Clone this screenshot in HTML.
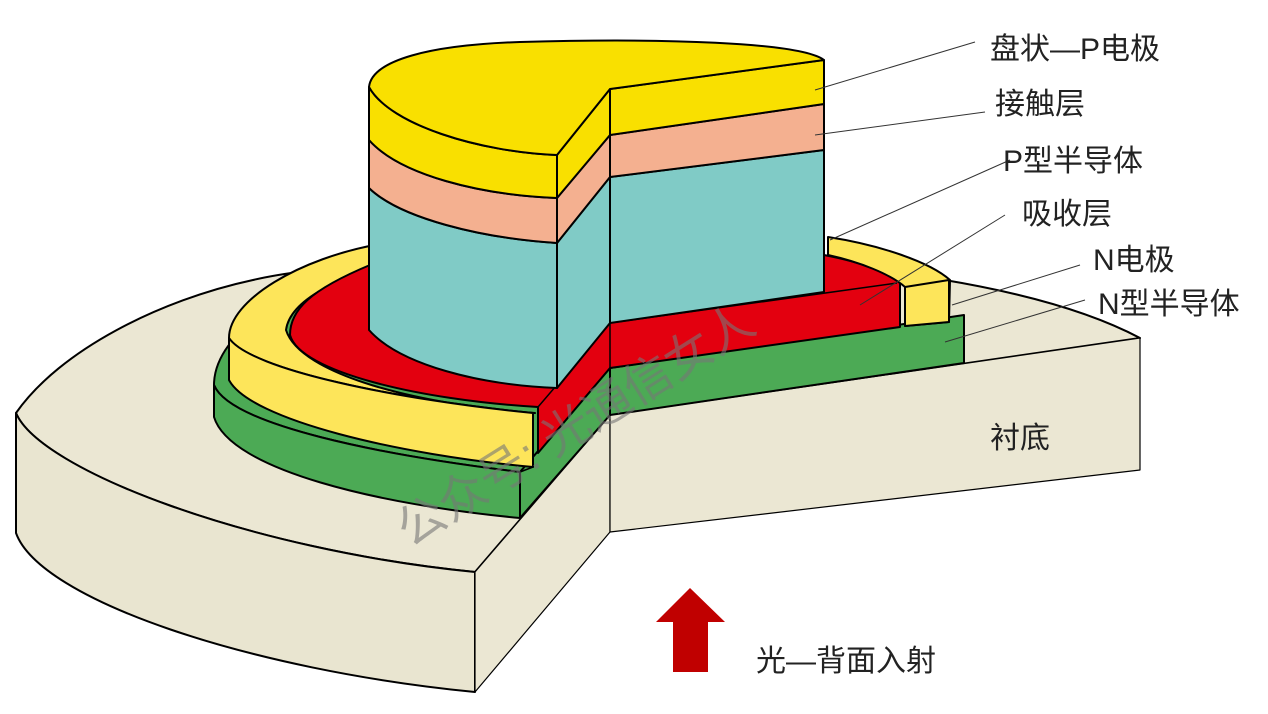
<!DOCTYPE html>
<html><head><meta charset="utf-8"><style>
html,body{margin:0;padding:0;background:#fff;}
svg{display:block;}
text{font-family:"Liberation Sans","Noto Sans CJK SC",sans-serif;}
</style></head><body>
<svg width="1268" height="714" viewBox="0 0 1268 714" xmlns="http://www.w3.org/2000/svg">
<g stroke="#000" stroke-width="2" stroke-linejoin="round">
<path d="M610,415 L1140,338 C1040,285 860,262 700,258 C500,255 330,262 253,280 C160,300 60,350 16,413 C40,470 250,550 475,572 Z" fill="#ebe7d3"/>
<path d="M16,413 C40,470 250,550 475,572 L475,692 C250,670 40,600 16,533 Z" fill="#e9e5d0"/>
<path d="M475,572 L610,415 L610,532 L475,692 Z" fill="#ebe7d3" stroke-width="1.2"/>
<path d="M610,415 L1140,338 L1140,470 L610,532 Z" fill="#ebe7d3" stroke-width="1.2"/>
<path d="M520,472 C380,455 230,425 214,385 C214,330 300,280 380,265 L610,300 L610,368 Z" fill="#4caa55"/>
<path d="M214,385 C230,425 380,455 520,472 L520,518 C380,505 230,470 214,417 Z" fill="#4caa55"/>
<path d="M520,472 L610,368 L610,415 L520,518 Z" fill="#4caa55"/>
<path d="M610,368 L964,315 L964,363 L610,415 Z" fill="#4caa55"/>
<path d="M533,413 C400,400 250,370 229,338 C229,300 300,258 380,244 L400,262 C340,275 290,300 286,330 C300,375 420,405 535,413 Z" fill="#fde55a"/>
<path d="M229,338 C250,370 400,400 533,413 L533,467 C400,455 250,420 229,380 Z" fill="#fde55a"/>
<path d="M520,472 L533,467 L533,413" fill="none" stroke-width="1.5"/>
<path d="M538,453 L538,407 C420,400 300,372 290,335 C290,310 310,290 370,265 L824,255 C860,262 890,272 900,283 L900,327 L610,368 Z" fill="#e3000f"/>
<path d="M538,407 L610,323 L897,283" fill="none" stroke-width="1.5"/>
<path d="M610,323 L610,368" fill="none" stroke-width="1.5"/>
<path d="M828,237 C880,245 930,262 950,280 L949,322 L905,326 L905,287 C890,274 860,262 828,255 Z" fill="#fde55a"/>
<path d="M905,287 L949,280 L949,322 L905,326 Z" fill="#fde55a"/>
<path d="M369,188 L369,330 C400,365 480,385 557,388 L557,243 C480,238 400,218 369,188 Z" fill="#80cbc6"/>
<path d="M557,243 L610,177 L610,323 L557,388 Z" fill="#80cbc6"/>
<path d="M610,177 L824,150 L824,292 L610,323 Z" fill="#80cbc6"/>
<path d="M369,140 C400,175 480,195 557,198 L557,243 C480,238 400,218 369,188 Z" fill="#f4b090"/>
<path d="M557,198 L610,135 L610,177 L557,243 Z" fill="#f4b090"/>
<path d="M610,135 L824,104 L824,150 L610,177 Z" fill="#f4b090"/>
<path d="M369,87 C390,125 480,152 557,155 L557,198 C480,195 400,175 369,140 Z" fill="#f9e000"/>
<path d="M557,155 L610,89 L610,135 L557,198 Z" fill="#f9e000"/>
<path d="M610,89 L824,60 L824,104 L610,135 Z" fill="#f9e000"/>
<path d="M557,155 C480,152 390,125 369,87 C372,60 430,45 520,42 C660,38 800,42 824,60 L610,89 Z" fill="#f9e000"/>
</g>
<g stroke="#333" stroke-width="1">
<line x1="815" y1="90" x2="975" y2="42"/>
<line x1="815" y1="135" x2="985" y2="112"/>
<line x1="830" y1="240" x2="1010" y2="160"/>
<line x1="860" y1="305" x2="1005" y2="215"/>
<line x1="952" y1="305" x2="1080" y2="265"/>
<line x1="945" y1="342" x2="1085" y2="300"/>
</g>
<g font-size="30" fill="#222">
<text x="990" y="59">盘状—P电极</text>
<text x="995" y="114">接触层</text>
<text x="1003" y="171">P型半导体</text>
<text x="1022" y="224">吸收层</text>
<text x="1093" y="270">N电极</text>
<text x="1098" y="314">N型半导体</text>
<text x="990" y="448">衬底</text>
<text x="756" y="671">光—背面入射</text>
</g>
<polygon points="690,588 725,622 708,622 708,672 673,672 673,622 656,622" fill="#c00000"/>
<text x="0" y="0" font-size="48" fill="#777" fill-opacity="0.6" transform="translate(410,548) rotate(-32)">公众号: 光通信女人</text>
</svg>
</body></html>
